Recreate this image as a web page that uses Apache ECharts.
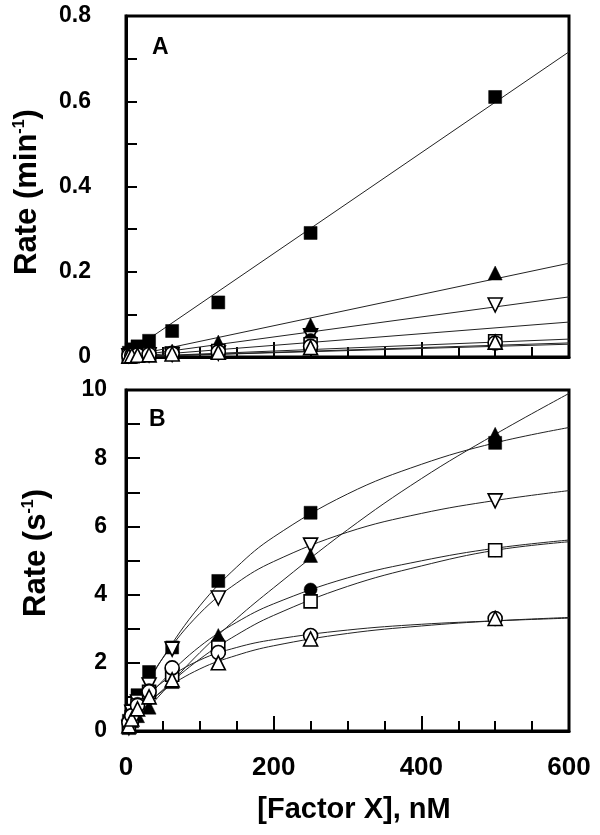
<!DOCTYPE html>
<html>
<head>
<meta charset="utf-8">
<script src="https://cdn.jsdelivr.net/npm/echarts@6/dist/echarts.min.js"></script>
<style>html,body{margin:0;padding:0;background:#fff}#c{width:600px;height:835px}</style>
</head>
<body>
<div id="c"></div>
<script>
// ---- Data ----
const factorX = [3.9, 7.8, 15.6, 31.25, 62.5, 125, 250, 500];      // nM
const fitX_A = [0, 600];
const fitX_B = [0, 25, 50, 100, 150, 200, 300, 400, 500, 600];

// Panel A (min^-1)
const A_filledSquare   = [0.010, 0.018, 0.025, 0.038, 0.061, 0.128, 0.291, 0.610];
const A_invTriangle    = [0.003, 0.004, 0.004, 0.005, 0.006, 0.009, 0.050, 0.122];
const A_filledTriangle = [0.003, 0.005, 0.007, 0.010, 0.014, 0.035, 0.075, 0.197];
const A_filledCircle   = [0.004, 0.005, 0.006, 0.008, 0.011, 0.018, 0.040, null];
const A_openSquare     = [0.003, 0.004, 0.005, 0.006, 0.008, 0.014, 0.030, 0.037];
const A_openCircle     = [0.003, 0.004, 0.005, 0.006, 0.008, 0.012, 0.025, 0.033];
const A_openTriangle   = [0.002, 0.003, 0.004, 0.005, 0.007, 0.011, 0.022, 0.035];

const A_fit_filledSquare   = [0.006, 0.716];
const A_fit_filledTriangle = [0.000, 0.220];
const A_fit_invTriangle    = [0.000, 0.141];
const A_fit_filledCircle   = [0.000, 0.082];
const A_fit_openSquare     = [0.000, 0.042];
const A_fit_openCircle     = [0.000, 0.033];
const A_fit_openTriangle   = [0.000, 0.030];

// Panel B (s^-1)
const B_filledSquare   = [0.30, 0.60, 1.05, 1.73, 2.45, 4.40, 6.40, 8.45];
const B_invTriangle    = [0.10, 0.55, 0.85, 1.35, 2.40, 3.90, 5.45, 6.75];
const B_filledTriangle = [0.10, 0.30, 0.45, 0.70, 1.45, 2.80, 5.15, 8.70];
const B_filledCircle   = [0.15, 0.45, 0.80, 1.20, 1.85, 2.60, 4.15, 5.30];
const B_openSquare     = [0.15, 0.40, 0.75, 1.15, 1.65, 2.45, 3.80, 5.30];
const B_openCircle     = [0.25, 0.45, 0.75, 1.15, 1.85, 2.30, 2.80, 3.30];
const B_openTriangle   = [0.15, 0.35, 0.65, 1.00, 1.50, 2.00, 2.70, 3.30];

const B_fit_filledSquare   = [0, 1.17, 2.15, 3.67, 4.81, 5.69, 6.95, 7.82, 8.45, 8.90];
const B_fit_invTriangle    = [0, 1.22, 2.14, 3.45, 4.34, 4.97, 5.83, 6.38, 6.76, 7.05];
const B_fit_filledTriangle = [0, 0.55, 1.15, 2.30, 3.30, 4.20, 5.90, 7.40, 8.70, 9.90];
const B_fit_filledCircle   = [0, 0.82, 1.48, 2.48, 3.19, 3.73, 4.49, 4.99, 5.36, 5.60];
const B_fit_openSquare     = [0, 0.65, 1.21, 2.11, 2.82, 3.39, 4.24, 4.84, 5.30, 5.55];
const B_fit_openCircle     = [0, 0.89, 1.44, 2.08, 2.45, 2.68, 2.96, 3.13, 3.23, 3.31];
const B_fit_openTriangle   = [0, 0.69, 1.18, 1.82, 2.22, 2.50, 2.86, 3.08, 3.23, 3.33];

const yTicksA = ['0', '0.2', '0.4', '0.6', '0.8'];
const yTicksB = ['0', '2', '4', '6', '8', '10'];
const xTicks  = ['0', '200', '400', '600'];

// ---- Build chart ----
const FONT = 'Liberation Sans, Arial, Helvetica, sans-serif';
const zip = (xs, ys) => xs.map((x, i) => [x, ys[i]]);

const markerStyles = {
  filledSquare:   {symbol: 'rect', size: 13, fill: '#000', rot: 0},
  invTriangle:    {symbol: 'triangle', size: 14, fill: '#fff', rot: 180},
  filledTriangle: {symbol: 'triangle', size: 14, fill: '#000', rot: 0},
  filledCircle:   {symbol: 'circle', size: 13, fill: '#000', rot: 0},
  openSquare:     {symbol: 'rect', size: 13, fill: '#fff', rot: 0},
  openCircle:     {symbol: 'circle', size: 14, fill: '#fff', rot: 0},
  openTriangle:   {symbol: 'triangle', size: 14, fill: '#fff', rot: 0}
};
const order = ['filledSquare', 'invTriangle', 'filledTriangle', 'filledCircle', 'openSquare', 'openCircle', 'openTriangle'];

const panels = [
  {pts: {filledSquare: A_filledSquare, invTriangle: A_invTriangle, filledTriangle: A_filledTriangle, filledCircle: A_filledCircle, openSquare: A_openSquare, openCircle: A_openCircle, openTriangle: A_openTriangle},
   fits: {filledSquare: A_fit_filledSquare, invTriangle: A_fit_invTriangle, filledTriangle: A_fit_filledTriangle, filledCircle: A_fit_filledCircle, openSquare: A_fit_openSquare, openCircle: A_fit_openCircle, openTriangle: A_fit_openTriangle},
   fitX: fitX_A, smooth: false},
  {pts: {filledSquare: B_filledSquare, invTriangle: B_invTriangle, filledTriangle: B_filledTriangle, filledCircle: B_filledCircle, openSquare: B_openSquare, openCircle: B_openCircle, openTriangle: B_openTriangle},
   fits: {filledSquare: B_fit_filledSquare, invTriangle: B_fit_invTriangle, filledTriangle: B_fit_filledTriangle, filledCircle: B_fit_filledCircle, openSquare: B_fit_openSquare, openCircle: B_fit_openCircle, openTriangle: B_fit_openTriangle},
   fitX: fitX_B, smooth: 0.4}
];

const series = [];
panels.forEach((p, gi) => {
  order.forEach(k => {
    series.push({
      type: 'line', xAxisIndex: gi, yAxisIndex: gi, silent: true,
      data: zip(p.fitX, p.fits[k]), showSymbol: false, smooth: p.smooth,
      lineStyle: {color: '#222', width: 1}, z: 2, animation: false
    });
  });
  order.forEach((k, idx) => {
    const m = markerStyles[k];
    series.push({
      type: 'scatter', xAxisIndex: gi, yAxisIndex: gi,
      data: zip(factorX, p.pts[k]).filter(d => d[1] !== null),
      symbol: m.symbol, symbolSize: m.size, symbolRotate: m.rot,
      itemStyle: {color: m.fill, borderColor: '#000', borderWidth: m.fill === '#fff' ? 1.6 : 0.5, opacity: 1},
      z: 3 + idx, animation: false
    });
  });
});

const axisLineStyle = {show: true, lineStyle: {color: '#000', width: 3}};
const yLabelStyle = {color: '#000', fontFamily: FONT, fontWeight: 'bold', fontSize: 23};
const xLabelStyle = {color: '#000', fontFamily: FONT, fontWeight: 'bold', fontSize: 26};

const evenLabel = (ticks, step) => (v) => {
  const i = Math.round(v / step);
  return (i % 2 === 0) ? ticks[i / 2] : '';
};

const titleFont = {fontFamily: FONT, fontWeight: 'bold', fill: '#000'};
const supRich = {sup: {fontFamily: FONT, fontWeight: 'bold', fontSize: 16, verticalAlign: 'top', fill: '#000', padding: [0, 0, 12, 0]}};

const option = {
  backgroundColor: '#fff',
  animation: false,
  grid: [
    {left: 126, top: 16, width: 443, height: 341, show: true, borderColor: '#000', borderWidth: 3, containLabel: false},
    {left: 126, top: 390, width: 443, height: 341, show: true, borderColor: '#000', borderWidth: 3, containLabel: false}
  ],
  xAxis: [0, 1].map(gi => ({
    type: 'value', gridIndex: gi, min: 0, max: 600, interval: 200,
    axisLine: axisLineStyle,
    axisTick: {show: true, inside: true, length: 15, lineStyle: {color: '#000', width: 2}},
    minorTick: {show: true, splitNumber: 4, length: 10, lineStyle: {color: '#000', width: 2}},
    splitLine: {show: false},
    axisLabel: gi === 1 ? Object.assign({margin: 24, formatter: v => xTicks[Math.round(v / 200)]}, xLabelStyle) : {show: false}
  })),
  yAxis: [
    {
      type: 'value', gridIndex: 0, min: 0, max: 0.8, interval: 0.1,
      axisLine: axisLineStyle,
      axisTick: {show: true, inside: true, length: 11, lineStyle: {color: '#000', width: 2}},
      splitLine: {show: false},
      axisLabel: Object.assign({margin: 35, formatter: evenLabel(yTicksA, 0.1)}, yLabelStyle)
    },
    {
      type: 'value', gridIndex: 1, min: 0, max: 10, interval: 1,
      axisLine: axisLineStyle,
      axisTick: {show: true, inside: true, length: 14, lineStyle: {color: '#000', width: 2}},
      splitLine: {show: false},
      axisLabel: Object.assign({margin: 19, formatter: evenLabel(yTicksB, 1)}, yLabelStyle)
    }
  ],
  graphic: [
    {type: 'text', left: 152, top: 36, style: {text: 'A', fontFamily: FONT, fontWeight: 'bold', fontSize: 23, fill: '#000'}},
    {type: 'text', left: 149, top: 408, style: {text: 'B', fontFamily: FONT, fontWeight: 'bold', fontSize: 23, fill: '#000'}},
    {type: 'text', x: 27, y: 192, rotation: Math.PI / 2,
     style: Object.assign({text: 'Rate (min{sup|-1})', fontSize: 31, align: 'center', verticalAlign: 'middle', rich: supRich}, titleFont)},
    {type: 'text', x: 36, y: 553, rotation: Math.PI / 2,
     style: Object.assign({text: 'Rate (s{sup|-1})', fontSize: 31, align: 'center', verticalAlign: 'middle', rich: supRich}, titleFont)},
    {type: 'text', x: 354, y: 810,
     style: Object.assign({text: '[Factor X], nM', fontSize: 29, align: 'center', verticalAlign: 'middle'}, titleFont)}
  ],
  series: series
};

const chart = echarts.init(document.getElementById('c'), null, {renderer: 'canvas'});
chart.setOption(option);
</script>
</body>
</html>
